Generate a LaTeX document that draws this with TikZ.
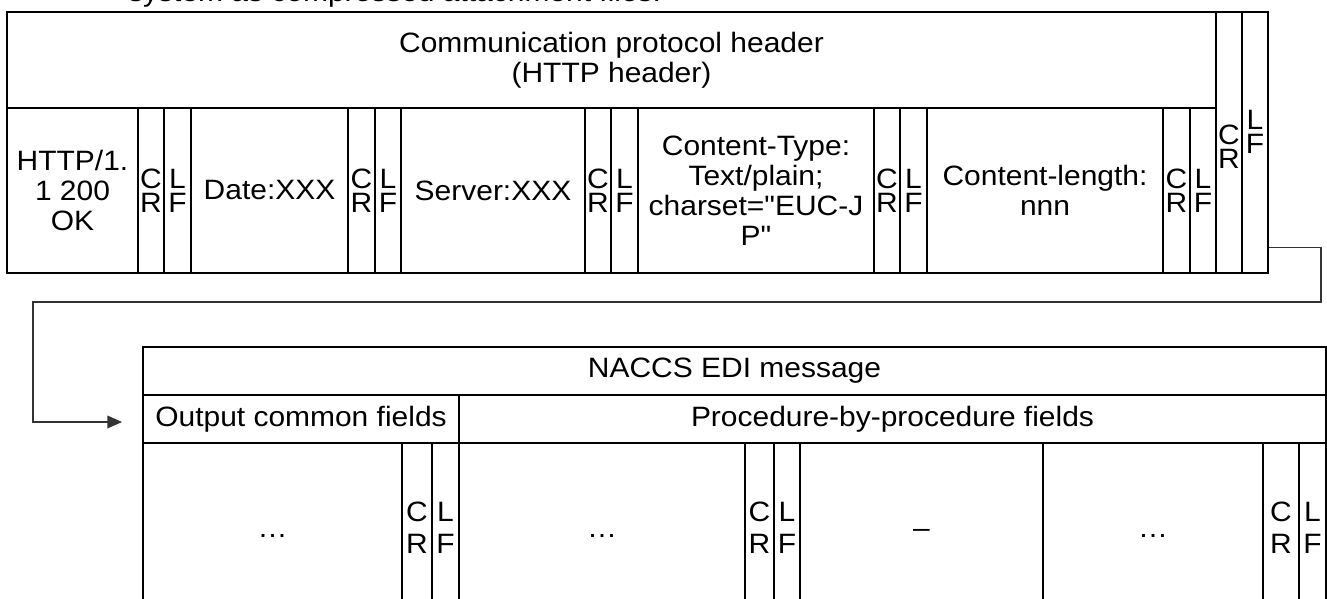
\documentclass[tikz,border=0pt]{standalone}
\usepackage{fontspec}
\setmainfont{Liberation Sans}[FakeStretch=1.07, Ligatures=TeXOff]
\usetikzlibrary{arrows.meta,fit}

% one pixel of the drawing
\newdimen\pxu \pxu=0.75pt
% \fieldbox[style]{name}{x1}{y1}{x2}{y2}{text}
\newcommand\fieldbox[7][]{%
  \node[field,#1,minimum width={(#5-#3)*\pxu},minimum height={(#6-#4)*\pxu}]
    (#2) at ({(#3+#5)/2},{(#4+#6)/2}) {#7};}

\tikzset{
  field/.style={draw, line width=1.5pt, inner sep=0pt, align=center,
    font={\fontsize{21pt}{22.5pt}\selectfont}},
  crlf/.style={font={\fontsize{21pt}{18pt}\selectfont}},
  crlfwide/.style={font={\fontsize{21pt}{24pt}\selectfont}},
  crlftext/.style={align=center, inner sep=0pt, font={\fontsize{21pt}{18pt}\selectfont}},
  link/.style={draw=black!80, line width=1.1pt},
}

\begin{document}
\begin{tikzpicture}[x=0.75pt,y=-0.75pt]
\useasboundingbox (0,0) rectangle (1327,599);
\clip (0,0) rectangle (1327,599);

\node[anchor=base west, inner sep=0pt, font={\fontsize{21pt}{22.5pt}\selectfont}] (intro) at (128,2) {system as compressed attachment files.};

% HTTP header
\fieldbox{header}{7}{12}{1216}{108}{Communication protocol header\\(HTTP header)}
\fieldbox{http}{7}{108}{138}{273}{HTTP/1.\\1 200\\OK}
\fieldbox[crlf]{cr1}{138}{108}{164}{273}{C\\R}
\fieldbox[crlf]{lf1}{164}{108}{191}{273}{L\\F}
\fieldbox{date}{191}{108}{348}{273}{Date:XXX}
\fieldbox[crlf]{cr2}{348}{108}{375}{273}{C\\R}
\fieldbox[crlf]{lf2}{375}{108}{401}{273}{L\\F}
\fieldbox{server}{401}{108}{585}{273}{Server:XXX}
\fieldbox[crlf]{cr3}{585}{108}{611}{273}{C\\R}
\fieldbox[crlf]{lf3}{611}{108}{638}{273}{L\\F}
\fieldbox{ctype}{638}{108}{874}{273}{Content-Type:\\Text/plain;\\charset="EUC-J\\P"}
\fieldbox[crlf]{cr4}{874}{108}{900}{273}{C\\R}
\fieldbox[crlf]{lf4}{900}{108}{927}{273}{L\\F}
\fieldbox{clen}{927}{108}{1163}{273}{Content-length:\\nnn}
\fieldbox[crlf]{cr5}{1163}{108}{1190}{273}{C\\R}
\fieldbox[crlf]{lf5}{1190}{108}{1216}{273}{L\\F}
\fieldbox{crend}{1216}{12}{1242}{273}{}
\fieldbox{lfend}{1242}{12}{1268}{273}{}
\node[crlftext] (crendtxt) at ([yshift=-3.4pt]crend.center) {C\\R};
\node[crlftext] (lfendtxt) at ([yshift=7.9pt]lfend.center) {L\\F};
\node[fit=(header)(http)(lfend), inner sep=0pt] (hdrbox) {};

% NACCS EDI message
\fieldbox{title}{143}{347}{1326}{395}{NACCS EDI message}
\fieldbox{common}{143}{395}{459}{443}{Output common fields}
\fieldbox{proc}{459}{395}{1326}{443}{Procedure-by-procedure fields}
\fieldbox{dots1}{143}{443}{402}{612}{\vphantom{C}…}
\fieldbox[crlfwide]{cr6}{402}{443}{432}{612}{C\\R}
\fieldbox[crlfwide]{lf6}{432}{443}{459}{612}{L\\F}
\fieldbox{dots2}{459}{443}{745}{612}{\vphantom{C}…}
\fieldbox[crlfwide]{cr7}{745}{443}{774}{612}{C\\R}
\fieldbox[crlfwide]{lf7}{774}{443}{800}{612}{L\\F}
\fieldbox{dash}{800}{443}{1043}{612}{\vphantom{C}\textendash}
\fieldbox{dots3}{1043}{443}{1263}{612}{\vphantom{C}…}
\fieldbox[crlfwide]{cr8}{1263}{443}{1299}{612}{C\\R}
\fieldbox[crlfwide]{lf8}{1299}{443}{1326}{612}{L\\F}

% connector
\coordinate (out) at ([yshift=20.25pt]hdrbox.south east);
\coordinate (in) at ([xshift=-15pt,yshift=-2.25pt]common.west);
\coordinate (bendR) at (1321,302);
\coordinate (bendL) at (33,302);
\draw[link, -{Triangle[length=11pt,width=9.5pt]}] (out) -- (out -| bendR) -- (bendR) -- (bendL) -- (bendL |- in) -- (in);
\end{tikzpicture}
\end{document}
